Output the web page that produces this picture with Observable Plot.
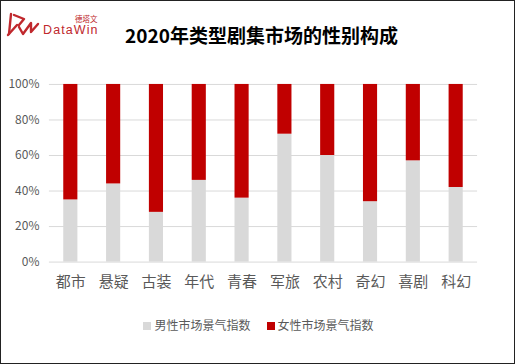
<!DOCTYPE html>
<html><head><meta charset="utf-8">
<script src="https://cdn.jsdelivr.net/npm/d3@7"></script>
<script src="https://cdn.jsdelivr.net/npm/@observablehq/plot@0.6"></script>
<style>
html,body{margin:0;padding:0;background:#fff;}
#wrap{position:relative;width:513px;height:362px;border:1px solid #222;overflow:hidden;font-family:"Noto Sans CJK SC","Microsoft YaHei",sans-serif;}
#title{position:absolute;left:0;width:515px;top:20px;text-align:center;font-weight:bold;font-size:19px;color:#000;margin-left:3px;letter-spacing:0px;}
#logo{position:absolute;left:-1px;top:4px;}
#chart{position:absolute;left:-1px;top:59px;}
#legend{position:absolute;left:0;width:515px;top:315px;text-align:center;font-size:12px;color:#595959;}
#legend span.sw{display:inline-block;width:8px;height:8px;margin-right:3px;vertical-align:0px;}
#legend .item{margin:0 8px;}
</style></head><body>
<div id="wrap">
  <svg id="logo" width="110" height="40" viewBox="0 0 110 40">
    <g fill="none" stroke="#c0282d" stroke-width="2.4" stroke-linecap="round" stroke-linejoin="round">
      <path d="M11 9 L9 29"/>
      <path d="M8 30 L17 20"/>
      <path d="M14 10 L24 14 L19 20"/>
      <path d="M19 22 L23 29 L31 18 L31 27 L38 19"/>
    </g>
    <text x="75" y="16.5" font-size="7.5" fill="#c0282d" font-family="Noto Sans CJK SC">德塔文</text>
    <text x="43" y="28.5" font-size="12.5" letter-spacing="1.1" fill="#c0282d" font-family="Liberation Sans, Arial, sans-serif">DataWin</text>
  </svg>
  <div id="title">2020年类型剧集市场的性别构成</div>
  <div id="chart"></div>
  <div id="legend"><span class="item"><span class="sw" style="background:#d9d9d9"></span>男性市场景气指数</span><span class="item"><span class="sw" style="background:#c00000"></span>女性市场景气指数</span></div>
</div>
<script>
const categories = ["都市","悬疑","古装","年代","青春","军旅","农村","奇幻","喜剧","科幻"];
const maleValues = [35,44,28,46,36,72,60,34,57,42];
const femaleValues = [65,56,72,54,64,28,40,66,43,58];
const yTicks = [0,20,40,60,80,100];
const seriesNames = ["男性市场景气指数","女性市场景气指数"];
const seriesColors = ["#d9d9d9","#c00000"];

const rows = [];
categories.forEach((c,i)=>{
  rows.push({cat:c, series:seriesNames[0], order:0, value:maleValues[i]});
  rows.push({cat:c, series:seriesNames[1], order:1, value:femaleValues[i]});
});

const chart = Plot.plot({
  width: 515,
  height: 245,
  marginTop: 24,
  marginBottom: 43,
  marginLeft: 49,
  marginRight: 37,
  style: {fontFamily: '"Noto Sans CJK SC", sans-serif', background: "transparent"},
  x: {domain: categories, paddingInner: 0.67, paddingOuter: 0.335, round: false, label: null},
  y: {domain: [0,100], label: null},
  color: {domain: seriesNames, range: seriesColors},
  marks: [
    Plot.ruleY(yTicks, {stroke:"#d9d9d9", strokeWidth:1}),
    Plot.barY(rows, Plot.stackY({x:"cat", y:"value", fill:"series", order:"order"})),
    Plot.axisY(yTicks, {tickSize:0, tickPadding:10, tickFormat: d => d + "%", fontSize:12, fill:"#595959", label:null}),
    Plot.axisX({tickSize:0, tickPadding:14, fontSize:15, fill:"#595959", label:null})
  ]
});
document.getElementById("chart").appendChild(chart);
</script>
</body></html>
